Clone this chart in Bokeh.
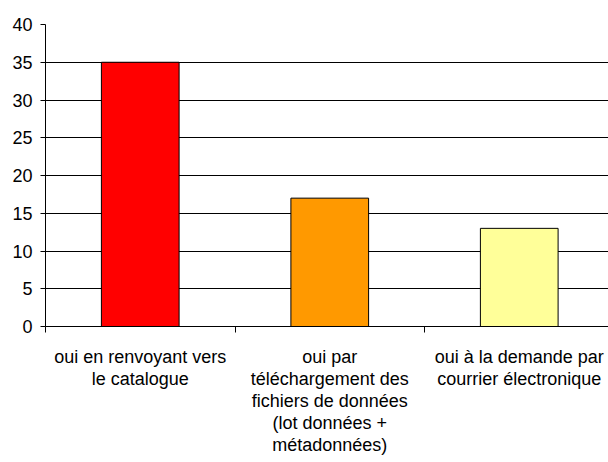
from bokeh.plotting import figure
from bokeh.models import Range1d, FixedTicker, ColumnDataSource
from bokeh.embed import file_html
from bokeh.resources import INLINE

categories = [
    "oui en renvoyant vers\nle catalogue",
    "oui par\ntéléchargement des\nfichiers de données\n(lot données +\nmétadonnées)",
    "oui à la demande par\ncourrier électronique",
]
values = [35, 17, 13]
colors = ["#FF0000", "#FF9900", "#FFFF99"]
y_ticks = [0, 5, 10, 15, 20, 25, 30, 35, 40]

centers = [i + 0.5 for i in range(len(categories))]
source = ColumnDataSource(dict(x=centers, top=values, color=colors))

W, H = 608, 462
left, top, bottom = 45, 24, 136
p = figure(width=W, height=H, output_backend="svg", toolbar_location=None,
           x_range=Range1d(0, (W - left) / 189.5), y_range=Range1d(0, 40),
           min_border_left=left, min_border_right=0, min_border_top=top,
           min_border_bottom=bottom)
p.outline_line_color = None
p.background_fill_color = "white"
p.border_fill_color = "white"

p.vbar(x="x", top="top", width=0.41, fill_color="color", line_color="black",
       line_width=1, source=source)

# x axis
p.xaxis.ticker = FixedTicker(ticks=centers, minor_ticks=[0, 1, 2, 3])
p.xaxis.major_label_overrides = {c: lab for c, lab in zip(centers, categories)}
p.xaxis.major_tick_out = 0
p.xaxis.major_tick_in = 0
p.xaxis.minor_tick_out = 6
p.xaxis.minor_tick_in = 0
p.xaxis.minor_tick_line_color = "black"
p.xaxis.axis_line_color = "black"
p.xaxis.major_label_text_font = "Liberation Sans"
p.xaxis.major_label_text_font_size = "18px"
p.xaxis.major_label_text_color = "black"
p.xaxis.major_label_text_line_height = 1.1
p.xaxis.major_label_standoff = 14
p.xaxis.major_label_orientation = "horizontal"

# y axis
p.yaxis.ticker = FixedTicker(ticks=y_ticks)
p.yaxis.minor_tick_line_color = None
p.yaxis.major_tick_out = 5
p.yaxis.major_tick_in = 0
p.yaxis.major_tick_line_color = "black"
p.yaxis.axis_line_color = "black"
p.yaxis.major_label_text_font = "Liberation Sans"
p.yaxis.major_label_text_font_size = "18px"
p.yaxis.major_label_text_color = "black"
p.yaxis.major_label_standoff = 8

p.xgrid.grid_line_color = None
p.ygrid.ticker = FixedTicker(ticks=y_ticks)
p.ygrid.grid_line_color = "black"
p.ygrid.grid_line_width = 1
p.ygrid.level = "underlay"

open("out.html", "w").write(file_html(p, INLINE))
